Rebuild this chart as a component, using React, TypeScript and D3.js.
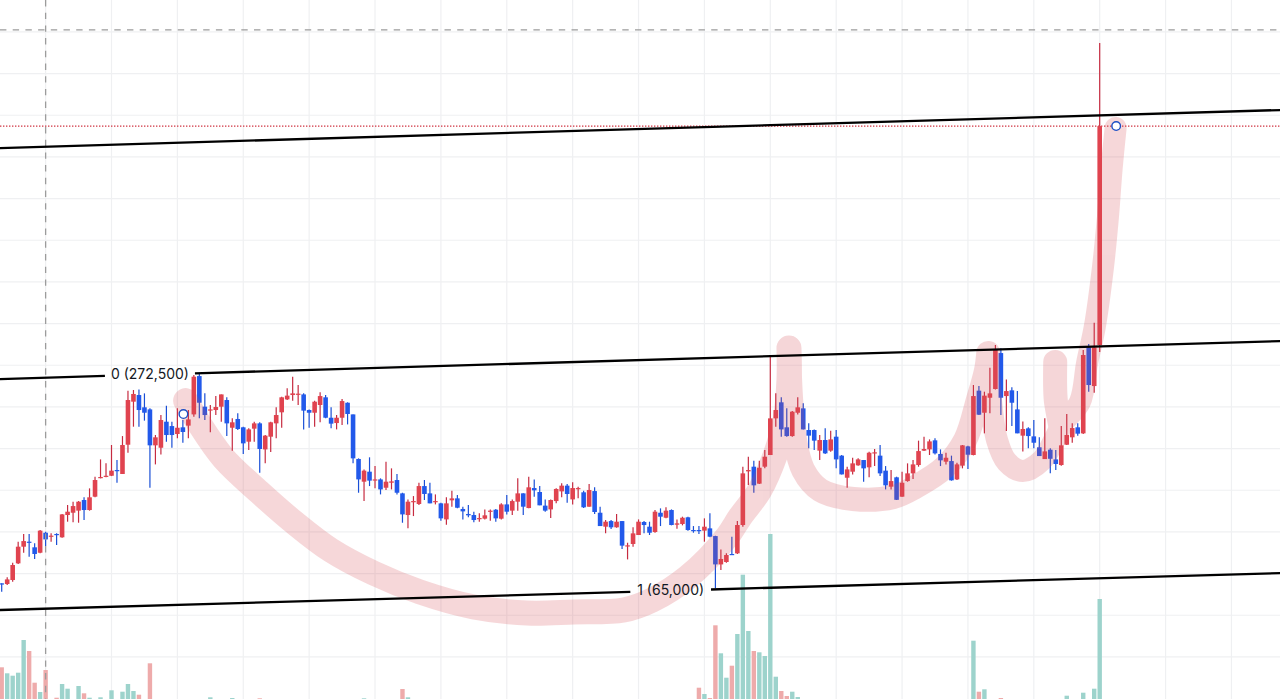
import * as React from 'react'
import * as d3 from 'd3'

const WIDTH = 1280
const HEIGHT = 699

// daily candles, prices in thousand won
const opens = [
  70.6, 70.0, 73.8, 89.8, 105.8, 110.6, 105.2, 100.0, 119.2, 115.4,
  118.0, 114.8, 136.2, 138.4, 140.4, 150.6, 141.0, 153.8, 172.0, 173.0,
  173.9, 179.4, 175.6, 203.7, 245.0, 251.4, 239.6, 237.6, 203.1, 200.8,
  225.8, 221.6, 214.0, 220.4, 222.0, 232.8, 269.6, 240.2, 237.0, 237.0,
  240.2, 246.6, 220.0, 228.4, 220.4, 206.6, 219.1, 224.2, 199.2, 211.4,
  224.2, 234.8, 247.2, 251.4, 252.0, 252.0, 237.0, 234.4, 241.8, 249.2,
  229.6, 224.5, 229.6, 244.0, 232.8, 190.0, 168.2, 177.8, 169.5, 170.4,
  162.4, 167.2, 169.8, 157.0, 136.2, 148.7, 146.8, 164.0, 157.0, 148.7,
  147.4, 132.0, 150.3, 152.2, 142.0, 137.2, 136.2, 132.7, 132.7, 139.4,
  141.3, 132.7, 146.4, 140.4, 149.0, 157.0, 142.9, 162.1, 158.3, 145.2,
  141.6, 149.6, 158.9, 164.4, 151.2, 161.2, 158.0, 144.2, 159.2, 138.4,
  125.0, 130.4, 124.4, 130.4, 106.4, 108.4, 117.0, 129.5, 125.0, 119.9,
  138.4, 133.6, 141.0, 126.9, 127.6, 134.0, 121.8, 121.8, 121.2, 123.4,
  116.0, 88.8, 91.1, 98.8, 99.4, 126.6, 178.1, 182.6, 166.3, 182.6,
  193.8, 229.0, 244.4, 220.4, 212.0, 234.4, 238.6, 217.8, 217.8, 198.0,
  208.2, 198.0, 211.4, 193.2, 172.0, 177.8, 183.9, 189.0, 182.0, 195.4,
  193.2, 178.8, 163.4, 172.4, 153.8, 168.8, 176.2, 184.2, 198.0, 199.2,
  207.9, 194.8, 187.4, 188.0, 170.4, 183.6, 202.1, 193.8, 255.6, 234.4,
  248.8, 257.2, 291.7, 250.4, 255.9, 237.6, 212.4, 219.4, 211.7, 201.2,
  189.9, 198.9, 189.6, 184.2, 203.7, 210.8, 220.4, 214.6, 297.2, 260.0,
  299.4,
]
const highs = [
  70.6, 76.4, 90.4, 110.6, 118.0, 118.0, 109.0, 121.8, 120.2, 118.6,
  118.6, 137.2, 145.8, 149.0, 149.6, 153.2, 161.8, 173.0, 189.6, 185.8,
  203.4, 189.0, 212.0, 255.6, 256.2, 256.8, 253.0, 238.6, 213.0, 232.2,
  241.2, 225.8, 238.6, 227.4, 237.0, 270.6, 272.2, 253.0, 241.8, 250.4,
  252.0, 249.2, 229.0, 233.8, 221.0, 219.4, 225.8, 225.2, 213.0, 225.8,
  239.6, 249.8, 257.8, 269.0, 261.0, 253.0, 237.6, 246.0, 254.0, 251.4,
  239.6, 232.2, 247.6, 244.4, 232.8, 190.6, 180.0, 191.6, 183.2, 171.4,
  187.4, 181.0, 175.6, 157.6, 151.2, 154.4, 167.2, 169.8, 167.2, 156.0,
  148.0, 153.2, 159.6, 155.4, 144.2, 145.8, 139.4, 137.8, 141.6, 141.6,
  142.0, 147.4, 155.4, 151.2, 171.4, 157.0, 173.0, 170.4, 164.0, 151.2,
  151.2, 161.8, 166.6, 166.0, 167.6, 163.4, 159.6, 166.0, 162.8, 144.2,
  131.4, 131.4, 137.2, 130.4, 109.6, 124.4, 132.0, 130.4, 129.8, 141.0,
  142.6, 143.6, 141.6, 132.0, 134.6, 134.6, 125.6, 125.6, 133.0, 137.8,
  116.4, 103.2, 99.4, 115.4, 130.4, 182.6, 192.2, 188.4, 188.4, 198.6,
  288.8, 253.0, 249.2, 238.6, 236.0, 249.2, 243.4, 224.2, 218.4, 213.0,
  219.4, 217.2, 217.8, 193.8, 182.6, 191.2, 190.6, 189.0, 197.0, 199.6,
  203.4, 183.2, 179.4, 173.0, 177.8, 185.8, 189.0, 207.6, 211.4, 208.8,
  209.8, 199.2, 196.0, 193.2, 186.4, 203.4, 202.8, 261.0, 260.0, 254.6,
  277.6, 299.4, 296.2, 266.4, 258.8, 255.2, 226.1, 220.4, 227.4, 210.8,
  229.0, 200.2, 198.6, 221.6, 233.2, 224.2, 224.2, 294.6, 300.4, 320.8,
  589.3,
]
const lows = [
  62.6, 69.0, 72.2, 89.2, 100.0, 96.2, 94.0, 99.4, 106.4, 110.6,
  107.4, 114.4, 129.8, 129.2, 128.8, 131.4, 140.4, 153.2, 171.4, 172.4,
  173.6, 167.2, 175.6, 196.0, 221.0, 221.0, 226.8, 162.4, 184.8, 194.4,
  206.6, 200.8, 209.8, 205.6, 209.8, 230.6, 229.0, 227.4, 215.6, 232.2,
  225.8, 212.0, 198.0, 217.8, 194.8, 198.6, 206.6, 176.8, 185.8, 196.7,
  209.8, 220.0, 246.6, 246.0, 241.8, 218.4, 220.0, 221.0, 225.2, 229.0,
  219.4, 218.4, 222.6, 223.2, 185.8, 157.6, 149.6, 164.0, 161.8, 156.0,
  160.2, 160.8, 156.0, 128.8, 123.4, 135.2, 145.8, 150.6, 147.4, 146.4,
  130.8, 126.9, 144.2, 142.6, 132.0, 134.0, 129.2, 129.8, 132.0, 130.8,
  129.8, 132.0, 136.8, 136.2, 140.4, 136.2, 142.6, 153.8, 145.5, 139.4,
  133.3, 147.4, 153.2, 148.0, 146.4, 152.2, 142.9, 144.2, 137.2, 125.6,
  118.6, 122.8, 124.0, 103.6, 93.6, 105.8, 117.0, 118.6, 117.0, 119.2,
  125.6, 133.0, 126.3, 123.1, 126.3, 121.2, 119.2, 118.0, 110.6, 114.8,
  65.8, 83.4, 90.4, 97.8, 98.8, 125.0, 165.0, 157.6, 166.0, 181.0,
  193.8, 221.0, 211.4, 211.4, 211.4, 232.8, 218.4, 200.2, 198.6, 189.0,
  194.8, 197.0, 181.0, 175.2, 162.4, 175.2, 183.6, 168.2, 172.4, 183.2,
  173.6, 160.8, 160.8, 150.6, 153.8, 168.2, 170.8, 182.6, 197.6, 193.8,
  194.4, 183.2, 184.8, 169.2, 169.8, 181.0, 180.4, 193.5, 232.2, 214.6,
  233.8, 256.8, 232.2, 216.8, 221.6, 214.6, 197.3, 200.2, 200.2, 192.8,
  189.9, 176.2, 179.4, 183.6, 203.4, 205.6, 212.4, 214.0, 254.6, 253.6,
  292.7,
]
const closes = [
  70.0, 74.4, 88.2, 105.8, 111.2, 110.0, 98.8, 121.2, 112.8, 116.4,
  117.3, 136.8, 139.4, 144.8, 149.0, 141.0, 153.2, 169.8, 172.7, 173.9,
  178.8, 178.8, 203.4, 246.6, 252.4, 237.0, 234.4, 203.1, 210.8, 227.4,
  213.0, 213.0, 220.0, 215.9, 228.0, 269.0, 244.0, 232.2, 237.6, 239.9,
  252.0, 224.2, 225.2, 218.8, 205.0, 218.4, 224.2, 199.6, 212.4, 225.2,
  232.2, 249.2, 250.8, 253.0, 252.7, 236.4, 234.4, 245.0, 250.4, 229.6,
  223.9, 229.6, 245.6, 233.2, 190.6, 170.4, 178.8, 169.2, 170.4, 160.8,
  168.2, 168.5, 157.6, 136.8, 149.0, 149.6, 164.0, 156.4, 147.4, 149.6,
  133.0, 147.4, 152.2, 143.2, 139.7, 135.9, 131.4, 133.3, 135.9, 140.4,
  133.0, 146.4, 139.4, 149.6, 157.0, 144.2, 162.8, 159.9, 145.5, 140.4,
  150.6, 161.2, 164.4, 156.4, 162.1, 162.1, 143.6, 160.2, 139.1, 125.6,
  129.8, 124.4, 129.8, 106.8, 107.1, 118.6, 129.8, 126.6, 119.2, 139.4,
  134.6, 140.4, 126.6, 128.2, 133.6, 121.8, 121.2, 121.2, 125.0, 115.4,
  88.8, 94.0, 97.8, 98.1, 126.6, 176.2, 179.4, 164.7, 181.6, 192.2,
  229.0, 237.0, 218.4, 212.0, 235.4, 239.6, 218.4, 212.4, 207.6, 208.2,
  195.4, 208.8, 189.6, 175.2, 180.0, 185.8, 189.6, 181.0, 196.0, 196.4,
  176.2, 164.7, 168.8, 150.8, 167.2, 176.2, 184.8, 197.6, 199.6, 206.9,
  195.4, 188.7, 191.2, 169.5, 184.8, 203.1, 194.1, 250.4, 232.5, 250.8,
  253.0, 294.6, 248.8, 255.2, 244.0, 214.6, 218.8, 212.0, 205.6, 192.8,
  197.3, 190.2, 185.2, 203.1, 213.0, 219.7, 214.3, 289.8, 261.0, 297.2,
  509.6,
]

// volume only on the bars where it is visible above the bottom edge
const volumeBars = [
  0, 1, 2, 3, 4, 5, 6, 7, 8, 10, 11, 12, 14, 15, 16, 18, 20, 22, 23, 24, 25, 27,
  38, 42, 47, 66, 73, 74, 127, 128, 129, 130, 131, 132, 133, 134, 135, 136, 137,
  138, 139, 140, 141, 142, 143, 144, 145, 177, 178, 179, 182, 194, 197, 199, 200,
]
const volumes = [
  31.7, 25.7, 23.3, 26.3, 59, 48, 16.3, 7, 29, 1.3, 15, 10.3, 13, 5.7, 1.3, 1.7, 8.7, 7.3, 15, 8, 4.3, 35.7,
  1.7, 1, 0.7, 0.7, 10, 1.7, 11.3, 5, 1, 73.7, 45.7, 21.3, 33.3, 65, 124.3, 68, 48,
  46.7, 43, 165, 22.3, 8, 3, 7.3, 2, 58.3, 7.3, 9.7, 1, 3.3, 6.3, 10.3, 100,
]

// parallel channel: price at the left and right edges of the picture
const channelEnds = [-0.31, 232.85]
const channelTop = [488.5, 525.0]
const channelMid = [266.7, 303.2]
const channelLow = [45.0, 80.5]
const midGap = [18.8, 35.2]
const lowGap = [114.5, 129.2]

const crosshairBar = 8
const crosshairPrice = 600
const lastClose = 509.6

const handleBars = [33.1, 203]
const handlePrices = [233.1, 509.6]

// hand drawn brush, one list of [bar, price] per pen stroke
const brushCup = [
  [33.5, 246], [35.9, 224.5], [40.4, 190.9], [46.9, 158.3], [53.4, 128.5], [59.9, 102.6], [67.7, 80.5],
  [76.2, 62.3], [86.0, 47.9], [95.7, 42.1], [104.2, 43.1], [113.3, 45.0], [118.5, 54.6], [125.0, 76.7],
  [132.1, 115.1], [134.5, 134.3], [138.1, 160.2], [140.9, 193.8], [142.7, 227.4], [143.4, 265.8], [143.4, 296.5],
]
const brushHandle = [
  [143.4, 296.5], [143.8, 246.6], [144.5, 208.2], [146.0, 179.4], [149.1, 160.2], [155.1, 151.6], [162.4, 153.5],
  [166.4, 163.1], [171.8, 182.3], [175.5, 208.2], [177.8, 246.6], [179.3, 275.4], [179.7, 291.7],
]
const brushRise = [
  [179.7, 291.7], [180.2, 246.6], [181.3, 208.2], [183.1, 187.1], [186.0, 178.5], [189.5, 189.0], [191.9, 210.1],
  [193.3, 224.5], [196.4, 244.7], [197.7, 282.1], [199.1, 316.7], [200.6, 374.3], [201.5, 422.3], [202.2, 470.3], [202.9, 507.7],
]
const brushHook = [[191.9, 283.1], [192.0, 246.6], [192.8, 222.6]]
const brushStrokes = [brushCup, brushHandle, brushRise, brushHook]
const brushWeights = [25, 24, 22, 24]

const RED = '#e0434f'
const RED_WICK = '#c62b40'
const BLUE = '#2259ea'
const BLUE_WICK = '#1a4fd6'
const VOL_UP = '#9dd3cc'
const VOL_DOWN = '#eeabab'
const GRID = '#eff0f2'
const LABEL = '#131722'

const xScale = d3.scaleLinear().domain([0, 200]).range([1.7, 1099.7])
const yScale = d3.scaleLinear().domain([0, 600]).range([656.9, 31.9])
const volScale = d3.scaleLinear().domain([0, 170]).range([HEIGHT, HEIGHT - 170])

const gridBars = d3.range(8, 233, 12)
const gridPrices = d3.range(0, 601, 40)

const channelAt = (ends: number[], bar: number) =>
  d3.scaleLinear().domain(channelEnds).range(ends)(bar)

const segment = (ends: number[], from: number, to: number) => (
  <line
    x1={xScale(from)}
    x2={xScale(to)}
    y1={yScale(channelAt(ends, from))}
    y2={yScale(channelAt(ends, to))}
    stroke="#000"
    strokeWidth={2.3}
  />
)

export default function App() {
  const brush = d3
    .line<number[]>()
    .x(d => xScale(d[0]))
    .y(d => yScale(d[1]))
    .curve(d3.curveCatmullRom)

  return (
    <svg
      width={WIDTH}
      height={HEIGHT}
      viewBox={`0 0 ${WIDTH} ${HEIGHT}`}
      style={{ position: 'fixed', left: 0, top: 0, display: 'block', background: '#fff' }}
    >
      <g>
        {gridPrices.map(p => (
          <line key={p} x1={0} x2={WIDTH} y1={yScale(p)} y2={yScale(p)} stroke={GRID} strokeWidth={1.2} />
        ))}
        {gridBars.map(b => (
          <line key={b} x1={xScale(b)} x2={xScale(b)} y1={0} y2={HEIGHT} stroke={GRID} strokeWidth={1.2} />
        ))}
      </g>

      <g>
        {volumeBars.map((b, i) => (
          <rect
            key={b}
            x={xScale(b) - 2.2}
            y={volScale(volumes[i])}
            width={4.4}
            height={HEIGHT - volScale(volumes[i])}
            fill={closes[b] >= opens[b] ? VOL_UP : VOL_DOWN}
          />
        ))}
      </g>

      <line
        x1={0}
        x2={WIDTH}
        y1={yScale(lastClose)}
        y2={yScale(lastClose)}
        stroke="#cf3542"
        strokeWidth={1.3}
        strokeDasharray="1.4 1.6"
      />

      <g>
        {opens.map((open, i) => {
          const up = closes[i] >= open
          const top = yScale(Math.max(open, closes[i]))
          const bottom = yScale(Math.min(open, closes[i]))
          return (
            <g key={i}>
              <line
                x1={xScale(i)}
                x2={xScale(i)}
                y1={yScale(highs[i])}
                y2={yScale(lows[i])}
                stroke={up ? RED_WICK : BLUE_WICK}
                strokeWidth={1.2}
              />
              <rect
                x={xScale(i) - 2.3}
                y={top}
                width={4.6}
                height={Math.max(bottom - top, 1.2)}
                fill={up ? RED : BLUE}
              />
            </g>
          )
        })}
      </g>

      {/* group opacity so the strokes do not darken where they cross */}
      <g opacity={0.22}>
        {brushStrokes.map((s, i) => (
          <path
            key={i}
            d={brush(s) as string}
            fill="none"
            stroke="rgb(214,72,84)"
            strokeWidth={brushWeights[i]}
            strokeLinecap="round"
            strokeLinejoin="round"
          />
        ))}
      </g>

      <line
        x1={0}
        x2={WIDTH}
        y1={yScale(crosshairPrice) - 2}
        y2={yScale(crosshairPrice) - 2}
        stroke="#9c9c9c"
        strokeWidth={1.3}
        strokeDasharray="6.4 6.3"
      />
      <line
        x1={xScale(crosshairBar)}
        x2={xScale(crosshairBar)}
        y1={0}
        y2={HEIGHT}
        stroke="#9c9c9c"
        strokeWidth={1.3}
        strokeDasharray="6.4 6.3"
      />

      {segment(channelTop, channelEnds[0], channelEnds[1])}
      {segment(channelMid, channelEnds[0], midGap[0])}
      {segment(channelMid, midGap[1], channelEnds[1])}
      {segment(channelLow, channelEnds[0], lowGap[0])}
      {segment(channelLow, lowGap[1], channelEnds[1])}

      <g fontFamily="Inter, 'Liberation Sans', sans-serif" fontSize={14} fill={LABEL}>
        <text x={xScale((midGap[0] + midGap[1]) / 2)} y={374} dy="0.35em" textAnchor="middle">
          0 (272,500)
        </text>
        <text x={xScale((lowGap[0] + lowGap[1]) / 2)} y={590} dy="0.35em" textAnchor="middle">
          1 (65,000)
        </text>
      </g>

      {handleBars.map((b, i) => (
        <circle
          key={b}
          cx={xScale(b)}
          cy={yScale(handlePrices[i])}
          r={4.3}
          fill="#fff"
          stroke="#1c4fc4"
          strokeWidth={1.4}
        />
      ))}
    </svg>
  )
}
